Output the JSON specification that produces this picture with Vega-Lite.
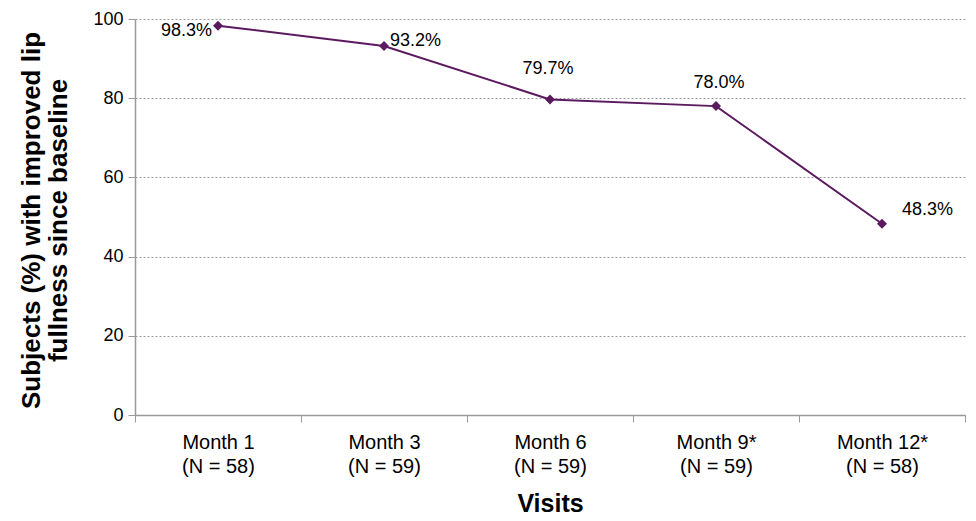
{
  "$schema": "https://vega.github.io/schema/vega-lite/v6.json",
  "width": 830,
  "height": 396,
  "autosize": "none",
  "padding": {"left": 135, "top": 19, "right": 11, "bottom": 106},
  "background": "white",
  "config": {
    "font": "Liberation Sans",
    "view": {"stroke": null}
  },
  "data": {
    "values": [
      {"visit": "Month 1|(N = 58)", "pct": 98.3, "label": "98.3%", "pos": "left"},
      {"visit": "Month 3|(N = 59)", "pct": 93.2, "label": "93.2%", "pos": "right"},
      {"visit": "Month 6|(N = 59)", "pct": 79.7, "label": "79.7%", "pos": "top"},
      {"visit": "Month 9*|(N = 59)", "pct": 78.0, "label": "78.0%", "pos": "top2"},
      {"visit": "Month 12*|(N = 58)", "pct": 48.3, "label": "48.3%", "pos": "topright"}
    ]
  },
  "encoding": {
    "x": {
      "field": "visit", "type": "nominal", "sort": null,
      "scale": {"paddingInner": 0, "paddingOuter": 0},
      "axis": {
        "title": "Visits", "titleFontSize": 25, "titleFontWeight": "bold", "titleColor": "#000", "titlePadding": 15,
        "labelExpr": "split(datum.label, '|')", "labelAngle": 0, "labelFontSize": 20, "labelColor": "#000",
        "labelLineHeight": 24, "labelPadding": 10,
        "tickBand": "extent", "tickColor": "#999", "tickSize": 7, "domainColor": "#999", "domainWidth": 1.5
      }
    },
    "y": {
      "field": "pct", "type": "quantitative",
      "scale": {"domain": [0, 100]},
      "axis": {
        "title": ["Subjects (%) with improved lip", "fullness since baseline"],
        "titleFontSize": 26, "titleFontWeight": "bold", "titleColor": "#000", "titleLineHeight": 27,
        "titleX": -117, "titleY": 201, "titleAngle": -90, "titleAlign": "center", "titleBaseline": "top",
        "values": [0, 20, 40, 60, 80, 100], "labelFontSize": 18, "labelColor": "#000", "labelPadding": 5,
        "tickColor": "#999", "tickSize": 7, "domainColor": "#999", "domainWidth": 1.5,
        "grid": true, "gridColor": "#999", "gridDash": [2, 2], "gridWidth": 1
      }
    }
  },
  "layer": [
    {"mark": {"type": "line", "color": "#5b1a5f", "strokeWidth": 2}},
    {"mark": {"type": "point", "shape": "diamond", "filled": true, "color": "#5b1a5f", "size": 100, "opacity": 1}},
    {
      "transform": [{"filter": "datum.pos == 'left'"}],
      "mark": {"type": "text", "align": "right", "baseline": "middle", "dx": -6, "dy": 5, "fontSize": 18, "color": "#000"},
      "encoding": {"text": {"field": "label"}}
    },
    {
      "transform": [{"filter": "datum.pos == 'right'"}],
      "mark": {"type": "text", "align": "left", "baseline": "middle", "dx": 6, "dy": -5, "fontSize": 18, "color": "#000"},
      "encoding": {"text": {"field": "label"}}
    },
    {
      "transform": [{"filter": "datum.pos == 'top'"}],
      "mark": {"type": "text", "align": "center", "baseline": "middle", "dx": -2, "dy": -30, "fontSize": 18, "color": "#000"},
      "encoding": {"text": {"field": "label"}}
    },
    {
      "transform": [{"filter": "datum.pos == 'top2'"}],
      "mark": {"type": "text", "align": "center", "baseline": "middle", "dx": 3, "dy": -23, "fontSize": 18, "color": "#000"},
      "encoding": {"text": {"field": "label"}}
    },
    {
      "transform": [{"filter": "datum.pos == 'topright'"}],
      "mark": {"type": "text", "align": "left", "baseline": "middle", "dx": 20, "dy": -14, "fontSize": 18, "color": "#000"},
      "encoding": {"text": {"field": "label"}}
    }
  ]
}
